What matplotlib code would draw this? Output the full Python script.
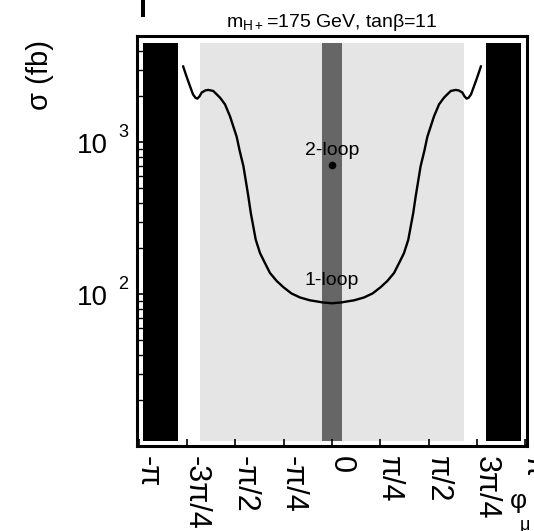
import numpy as np
import matplotlib
matplotlib.use('Agg')
import matplotlib.pyplot as plt
from matplotlib.patches import Rectangle
from matplotlib.transforms import ScaledTranslation

plt.rcParams['font.family'] = ['Liberation Sans', 'DejaVu Sans']
plt.rcParams['mathtext.fontset'] = 'custom'
plt.rcParams['mathtext.rm'] = 'Liberation Sans'

# 1-loop cross section vs phase phi_mu (fb)
phi = [-2.42, -2.36, -2.31, -2.26, -2.22, -2.19, -2.155, -2.12, -2.06, -2.01, -1.93, -1.82, -1.74,
       -1.66, -1.61, -1.55, -1.50, -1.44, -1.40, -1.36, -1.32, -1.28, -1.24,
       -1.17, -1.09, -1.01, -0.90, -0.79, -0.66, -0.52, -0.36, -0.14, 0.0,
       0.14, 0.36, 0.52, 0.66, 0.79, 0.90, 1.01, 1.09, 1.17, 1.24,
       1.28, 1.32, 1.36, 1.40, 1.44, 1.50, 1.55, 1.61, 1.66, 1.74,
       1.82, 1.93, 2.01, 2.06, 2.12, 2.155, 2.19, 2.22, 2.26, 2.31, 2.36, 2.42]
sigma_1loop = [3150, 2670, 2345, 2065, 1960, 1935, 2000, 2120, 2190, 2208, 2173, 1963, 1774,
               1486, 1289, 1086, 873, 694, 552, 439, 341, 279, 228,
               186, 160, 138, 122, 111, 101, 95, 91, 88, 87,
               88, 91, 95, 101, 111, 122, 138, 160, 186, 228,
               279, 341, 439, 552, 694, 873, 1086, 1289, 1486, 1774,
               1963, 2173, 2208, 2190, 2120, 2000, 1935, 1960, 2065, 2345, 2670, 3150]

# 2-loop point at phi_mu = 0
phi_2loop = 0.0
sigma_2loop = 705

# excluded / allowed bands in phi_mu
black_bands = [(-3.07, -2.50), (2.50, 3.07)]
light_band = (-2.14, 2.14)
dark_band = (-0.155, 0.155)

xtick_vals = [-np.pi, -3*np.pi/4, -np.pi/2, -np.pi/4, 0, np.pi/4, np.pi/2, 3*np.pi/4, np.pi]
xtick_labels = ['-π', '-3π/4', '-π/2', '-π/4', '0', 'π/4', 'π/2', '3π/4', 'π']
ytick_vals = [100, 1000]
ytick_exps = ['2', '3']

fig = plt.figure(figsize=(5.34, 5.31), dpi=100)
ax = fig.add_axes([0.2566, 0.1601, 0.7303, 0.7721])

for lo, hi in black_bands:
    ax.axvspan(lo, hi, ymin=0.013, ymax=0.983, color='black', lw=0, zorder=1)
ax.axvspan(*light_band, ymin=0.013, ymax=0.983, color='#e5e5e5', lw=0, zorder=1)
ax.axvspan(*dark_band, ymin=0.013, ymax=0.983, color='#666666', lw=0, zorder=1.1)

ax.plot(phi, sigma_1loop, color='black', lw=1.7, zorder=3)
ax.plot([phi_2loop], [sigma_2loop], 'o', color='black', ms=4.5, zorder=3)

ax.annotate('2-loop', xy=(phi_2loop, sigma_2loop), xytext=(0, 10.7),
            textcoords='offset pixels', ha='center', va='baseline', fontsize=14)
ax.annotate('1-loop', xy=(0.0, min(sigma_1loop)), xytext=(0, 18),
            textcoords='offset pixels', ha='center', va='baseline', fontsize=14)

ax.set_yscale('log')
ax.set_xlim(-3.17, 3.17)
ax.set_ylim(10, 5000)

ax.set_yticks(ytick_vals)
ax.set_yticklabels(['' for _ in ytick_vals])
ax.yaxis.set_minor_formatter(matplotlib.ticker.NullFormatter())
ax.tick_params(axis='y', which='major', direction='in', length=6, width=1.2, left=True, right=False)
ax.tick_params(axis='y', which='minor', direction='in', length=4, width=1.0, left=True, right=False)
for val, e in zip(ytick_vals, ytick_exps):
    ax.annotate('10', xy=(0, val), xycoords=('axes fraction', 'data'), xytext=(-29, -10.6),
                textcoords='offset pixels', ha='right', va='baseline', fontsize=20)
    ax.annotate(e, xy=(0, val), xycoords=('axes fraction', 'data'), xytext=(-19, 4.7),
                textcoords='offset pixels', ha='left', va='baseline', fontsize=13)

ax.set_xticks(xtick_vals)
ax.set_xticklabels(xtick_labels, rotation=-90, ha='left', va='top', fontsize=22)
ax.tick_params(axis='x', which='major', direction='in', length=5, width=1.2, pad=7,
               bottom=True, top=False)
shift = ScaledTranslation(-6/100, 0, fig.dpi_scale_trans)
for lab in ax.get_xticklabels():
    lab.set_transform(lab.get_transform() + shift)

for sp in ax.spines.values():
    sp.set_linewidth(2.2)

fig.text(332/534, 1 - 27.2/531, r'$\mathregular{m_{H+}}$=175 GeV, tanβ=11',
         ha='center', va='baseline', fontsize=14)
fig.text(40/534, 1 - 75/531, 'σ (fb)', rotation=90, ha='center', va='center', fontsize=21)
fig.text(510/534, 1 - 508/531, 'φ', ha='left', va='baseline', fontsize=19)
fig.text(520/534, 1 - 517/531, 'μ', ha='left', va='top', fontsize=13)
fig.patches.append(Rectangle((141/534, 1 - 17/531), 4/534, 17/531, transform=fig.transFigure,
                             color='black', lw=0))

fig.savefig('out.png', dpi=100)
